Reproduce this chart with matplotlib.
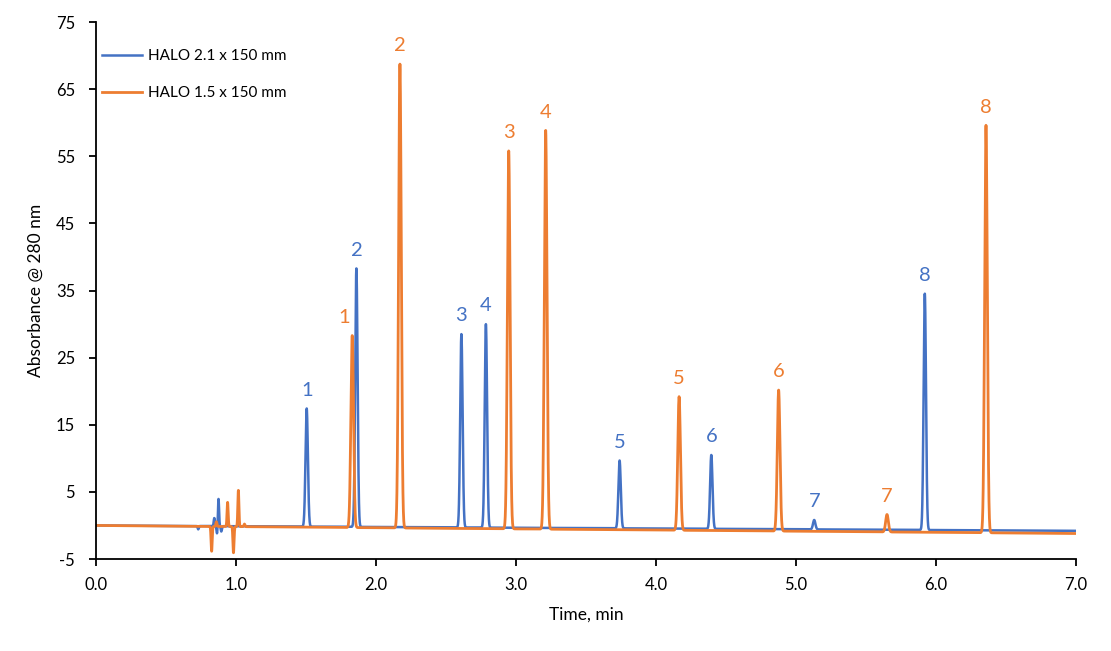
import numpy as np
import matplotlib.pyplot as plt

plt.rcParams['font.family'] = ['Lato', 'DejaVu Sans']
plt.rcParams['axes.unicode_minus'] = False

# peak retention times (min) and heights
blue_rt = [1.505, 1.86, 2.61, 2.785, 3.74, 4.395, 5.13, 5.92]
blue_h = [17.6, 38.5, 28.8, 30.3, 10.1, 11.0, 1.4, 35.2]
orange_rt = [1.83, 2.171, 2.948, 3.212, 4.165, 4.876, 5.65, 6.357]
orange_h = [28.6, 69.1, 56.3, 59.4, 19.9, 21.0, 2.6, 60.7]
peak_names = ['1', '2', '3', '4', '5', '6', '7', '8']

# injection disturbances near the void time
blue_dist_t = [0.73, 0.845, 0.865, 0.875, 0.895]
blue_dist_h = [-0.5, 1.2, -1.2, 4.1, -0.8]
orange_dist_t = [0.826, 0.86, 0.94, 0.982, 1.017, 1.06]
orange_dist_h = [-3.7, 0.7, 3.6, -3.9, 5.4, 0.4]

# baseline at end of run (drift from 0 at t=0)
blue_drift = -0.8
orange_drift = -1.2

t = np.linspace(0, 7, 14001)


def trace(rts, hs, dts, dhs, drift, sigma):
    y = drift * t / 7.0
    for rt, h in zip(rts, hs):
        y = y + h * np.exp(-0.5 * ((t - rt) / sigma) ** 2)
    for dt, dh in zip(dts, dhs):
        y = y + dh * np.exp(-0.5 * ((t - dt) / 0.004) ** 2)
    return y


blue_y = trace(blue_rt, blue_h, blue_dist_t, blue_dist_h, blue_drift, 0.0085)
orange_y = trace(orange_rt, orange_h, orange_dist_t, orange_dist_h, orange_drift, 0.0095)

blue = '#4472C4'
orange = '#ED7D31'

fig = plt.figure(figsize=(11.11, 6.51), dpi=100)
ax = fig.add_axes([0.0864, 0.1413, 0.8821, 0.8249])

ax.plot(t, blue_y, color=blue, lw=1.8, label='HALO 2.1 x 150 mm')
ax.plot(t, orange_y, color=orange, lw=2.0, label='HALO 1.5 x 150 mm')

# peak number labels
for i, (rt, h) in enumerate(zip(blue_rt, blue_h)):
    top = h + blue_drift * rt / 7.0
    ax.annotate(peak_names[i], (rt, top), xytext=(0, 7), textcoords='offset points',
                ha='center', va='bottom', color=blue, fontsize=14.5)
for i, (rt, h) in enumerate(zip(orange_rt, orange_h)):
    top = h + orange_drift * rt / 7.0
    dx = -6 if i == 0 else 0
    ax.annotate(peak_names[i], (rt, top), xytext=(dx, 7), textcoords='offset points',
                ha='center', va='bottom', color=orange, fontsize=14.5)

ax.set_xlim(0, 7)
ax.set_ylim(-5, 75)
ax.set_xticks(np.arange(0, 7.01, 1.0))
ax.set_xticklabels([f'{v:.1f}' for v in np.arange(0, 7.01, 1.0)])
ax.set_yticks(np.arange(-5, 76, 10))

for s in ['top', 'right']:
    ax.spines[s].set_visible(False)
for s in ['left', 'bottom']:
    ax.spines[s].set_linewidth(1.3)
ax.tick_params(direction='out', length=5, width=1.3, labelsize=12)
ax.tick_params(axis='x', pad=8)
ax.tick_params(axis='y', pad=10)

ax.set_xlabel('Time, min', fontsize=12.5, labelpad=10)
ax.set_ylabel('Absorbance @ 280 nm', fontsize=12.5, labelpad=9)

ax.legend(loc='upper left', bbox_to_anchor=(-0.008, 0.975), frameon=False,
          fontsize=11, handlelength=2.6, labelspacing=1.5, handletextpad=0.4)

fig.savefig('out.png', dpi=100)
